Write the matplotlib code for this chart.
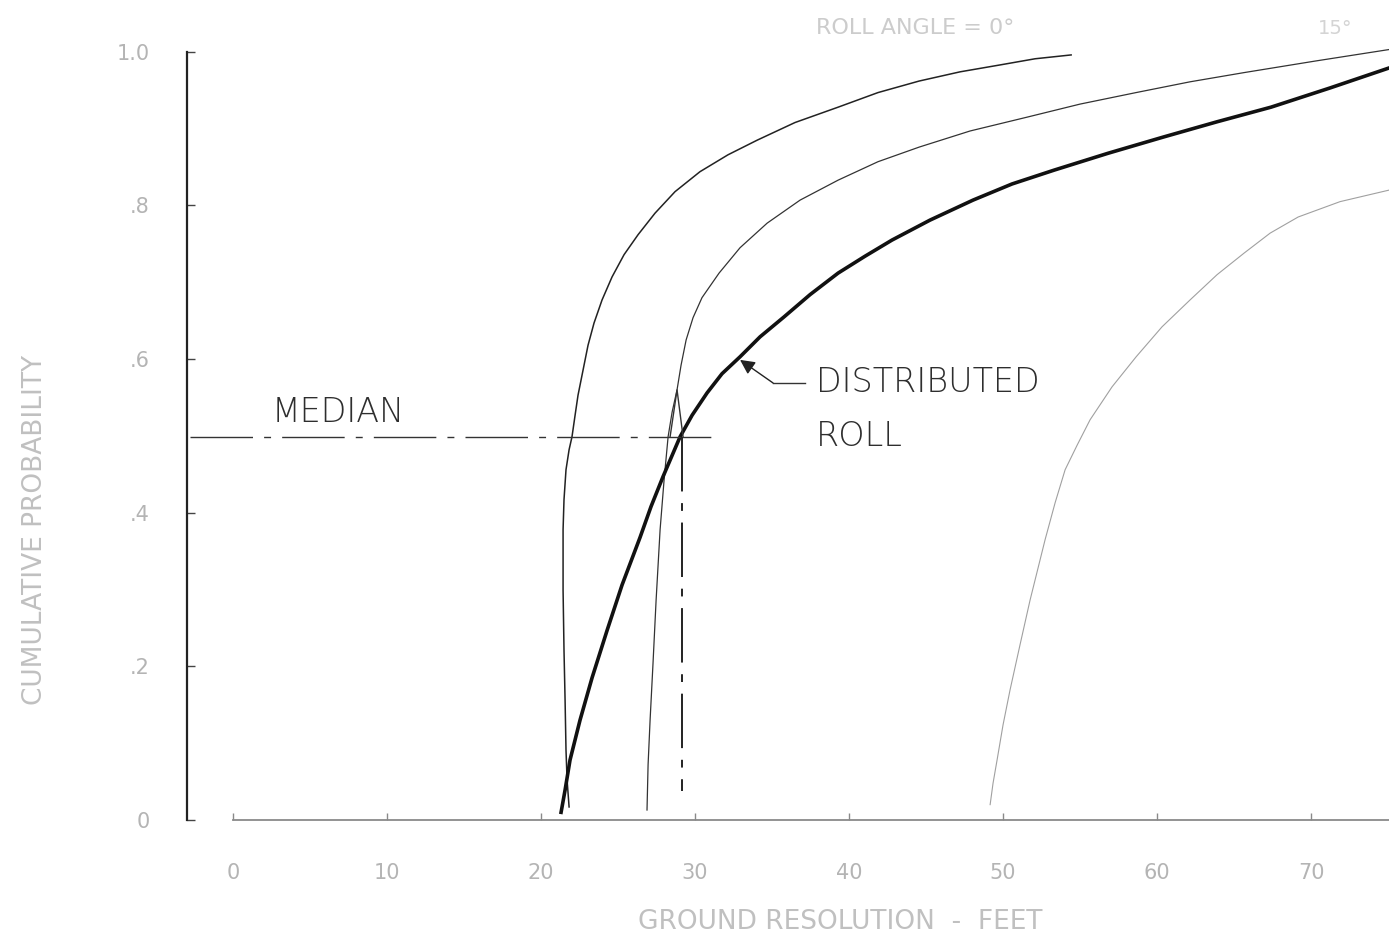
import matplotlib.pyplot as plt

# =========================
# Data
# =========================
# leftmost thin curve
a_x = [21.82, 21.69, 21.62, 21.56, 21.49, 21.43, 21.43, 21.49, 21.62, 21.82,
       22.01, 22.21, 22.40, 22.73, 23.05, 23.44, 23.96, 24.61, 25.39, 26.30,
       27.40, 28.70, 30.32, 32.14, 34.03, 36.49, 39.29, 41.88, 44.55, 47.21,
       49.81, 52.08, 54.42]
a_y = [0.017, 0.052, 0.091, 0.156, 0.221, 0.299, 0.378, 0.417, 0.456, 0.482,
       0.499, 0.527, 0.553, 0.586, 0.618, 0.647, 0.677, 0.707, 0.736, 0.762,
       0.790, 0.818, 0.844, 0.866, 0.885, 0.908, 0.928, 0.947, 0.962, 0.974,
       0.983, 0.991, 0.996]

# second thin curve
b_x = [26.88, 26.95, 27.08, 27.27, 27.47, 27.73, 27.99, 28.25, 28.51, 28.83,
       29.09, 29.42, 29.87, 30.45, 31.56, 32.92, 34.68, 36.82, 39.29, 41.88,
       44.55, 47.86, 51.56, 55.00, 58.64, 62.14, 65.65, 70.26, 75.06]
b_y = [0.013, 0.072, 0.130, 0.204, 0.286, 0.378, 0.443, 0.499, 0.531, 0.560,
       0.592, 0.625, 0.654, 0.680, 0.712, 0.745, 0.777, 0.807, 0.833, 0.857,
       0.876, 0.897, 0.915, 0.932, 0.947, 0.961, 0.973, 0.988, 1.003]

# distributed roll (heavy curve)
d_x = [21.30, 21.56, 21.88, 22.53, 23.31, 24.29, 25.26, 26.43, 27.14, 27.92,
       29.03, 29.81, 30.78, 31.75, 32.92, 34.22, 35.78, 37.47, 39.29, 41.04,
       42.79, 45.26, 48.05, 50.58, 53.31, 56.82, 60.39, 63.90, 67.40, 71.23,
       75.06]
d_y = [0.010, 0.039, 0.078, 0.130, 0.185, 0.247, 0.306, 0.368, 0.408, 0.447,
       0.499, 0.527, 0.556, 0.581, 0.603, 0.629, 0.655, 0.684, 0.712, 0.734,
       0.755, 0.781, 0.807, 0.828, 0.846, 0.868, 0.889, 0.909, 0.928, 0.953,
       0.979]

# faint rightmost curve
e_x = [49.16, 49.35, 49.61, 50.00, 50.45, 51.10, 51.75, 52.73, 53.38, 54.03,
       54.81, 55.65, 57.08, 58.64, 60.32, 62.14, 63.90, 65.65, 67.34, 69.16,
       71.88, 75.06]
e_y = [0.020, 0.048, 0.078, 0.124, 0.169, 0.228, 0.286, 0.365, 0.413, 0.456,
       0.488, 0.521, 0.564, 0.603, 0.642, 0.677, 0.710, 0.738, 0.764, 0.785,
       0.805, 0.820]

median_y = 0.499
median_x = [-2.8, 31.5]
median_drop_x = 29.16
median_drop_y = [0.499, 0.038]

# small wedge mark at the median crossing
spike_x = [28.38, 28.83, 29.22]
spike_y = [0.499, 0.560, 0.499]

x_ticks = [0, 10, 20, 30, 40, 50, 60, 70]
x_tick_labels = ["0", "10", "20", "30", "40", "50", "60", "70"]
y_ticks = [0, 0.2, 0.4, 0.6, 0.8, 1.0]
y_tick_labels = ["0", ".2", ".4", ".6", ".8", "1.0"]

FONT = "DejaVu Sans"
FAINT = "#b4b4b4"
INK = "#2e2e2e"

fig = plt.figure(figsize=(13.89, 9.48), dpi=100)
ax = fig.add_axes([187 / 1389, 128 / 948, 1202 / 1389, 815 / 948])
ax.set_xlim(-2.99, 75.06)
ax.set_ylim(0, 1.061)

# curves
ax.plot(a_x, a_y, color="#222222", lw=1.1, solid_joinstyle="round")
ax.plot(b_x, b_y, color="#333333", lw=0.9, solid_joinstyle="round")
ax.plot(d_x, d_y, color="#111111", lw=2.6, solid_joinstyle="round")
ax.plot(e_x, e_y, color="#a0a0a0", lw=0.8, solid_joinstyle="round")

# median lines
ax.plot(median_x, [median_y, median_y], color="#333333", lw=1.0,
        linestyle=(0, (45, 8, 5, 8)))
ax.plot([median_drop_x, median_drop_x], median_drop_y, color="#222222", lw=1.4,
        linestyle=(0, (28, 6, 4, 6)))
ax.plot(spike_x, spike_y, color="#333333", lw=1.0)

# labels on the plot
ax.text(2.53, 0.531, "MEDIAN", fontsize=24, family=FONT, color=INK,
        va="center", ha="left", fontweight="light")
ax.text(37.86, 0.569, "DISTRIBUTED", fontsize=24, family=FONT, color=INK,
        va="center", ha="left", fontweight="light")
ax.text(37.86, 0.499, "ROLL", fontsize=24, family=FONT, color=INK,
        va="center", ha="left", fontweight="light")
ax.plot([37.14, 35.06], [0.569, 0.569], color="#333333", lw=1.0)
ax.annotate("", xy=(32.92, 0.599), xytext=(35.06, 0.569),
            arrowprops=dict(arrowstyle="-|>", color="#222222", lw=1.0,
                            mutation_scale=22, shrinkA=0, shrinkB=0))

# axes styling
for side in ["top", "right"]:
    ax.spines[side].set_visible(False)
ax.spines["left"].set_bounds(0, 1.0)
ax.spines["left"].set_linewidth(1.6)
ax.spines["left"].set_color("#222222")
ax.spines["bottom"].set_bounds(0, 75.06)
ax.spines["bottom"].set_linewidth(1.3)
ax.spines["bottom"].set_color("#8a8a8a")

ax.set_xticks(x_ticks)
ax.set_xticklabels(x_tick_labels, family=FONT, fontsize=15, color=FAINT)
ax.set_yticks(y_ticks)
ax.set_yticklabels(y_tick_labels, family=FONT, fontsize=15, color=FAINT)
ax.tick_params(axis="x", direction="in", length=5, width=1, color="#8a8a8a", pad=31)
ax.tick_params(axis="y", direction="in", length=6, width=1, color="#444444", pad=27)

fig.text(840 / 1389, 1 - 922 / 948, "GROUND RESOLUTION  -  FEET", family=FONT,
         fontsize=19, color="#c0c0c0", ha="center", va="center")
fig.text(35 / 1389, 1 - 530 / 948, "CUMULATIVE PROBABILITY", family=FONT,
         fontsize=19, color="#c0c0c0", ha="center", va="center", rotation=90)

# faint curve labels near the top
fig.text(915 / 1389, 1 - 28 / 948, "ROLL ANGLE = 0°", family=FONT,
         fontsize=16, color="#cccccc", ha="center", va="center")
fig.text(1335 / 1389, 1 - 28 / 948, "15°", family=FONT,
         fontsize=14, color="#d4d4d4", ha="center", va="center")

fig.savefig("out.png", dpi=100)
